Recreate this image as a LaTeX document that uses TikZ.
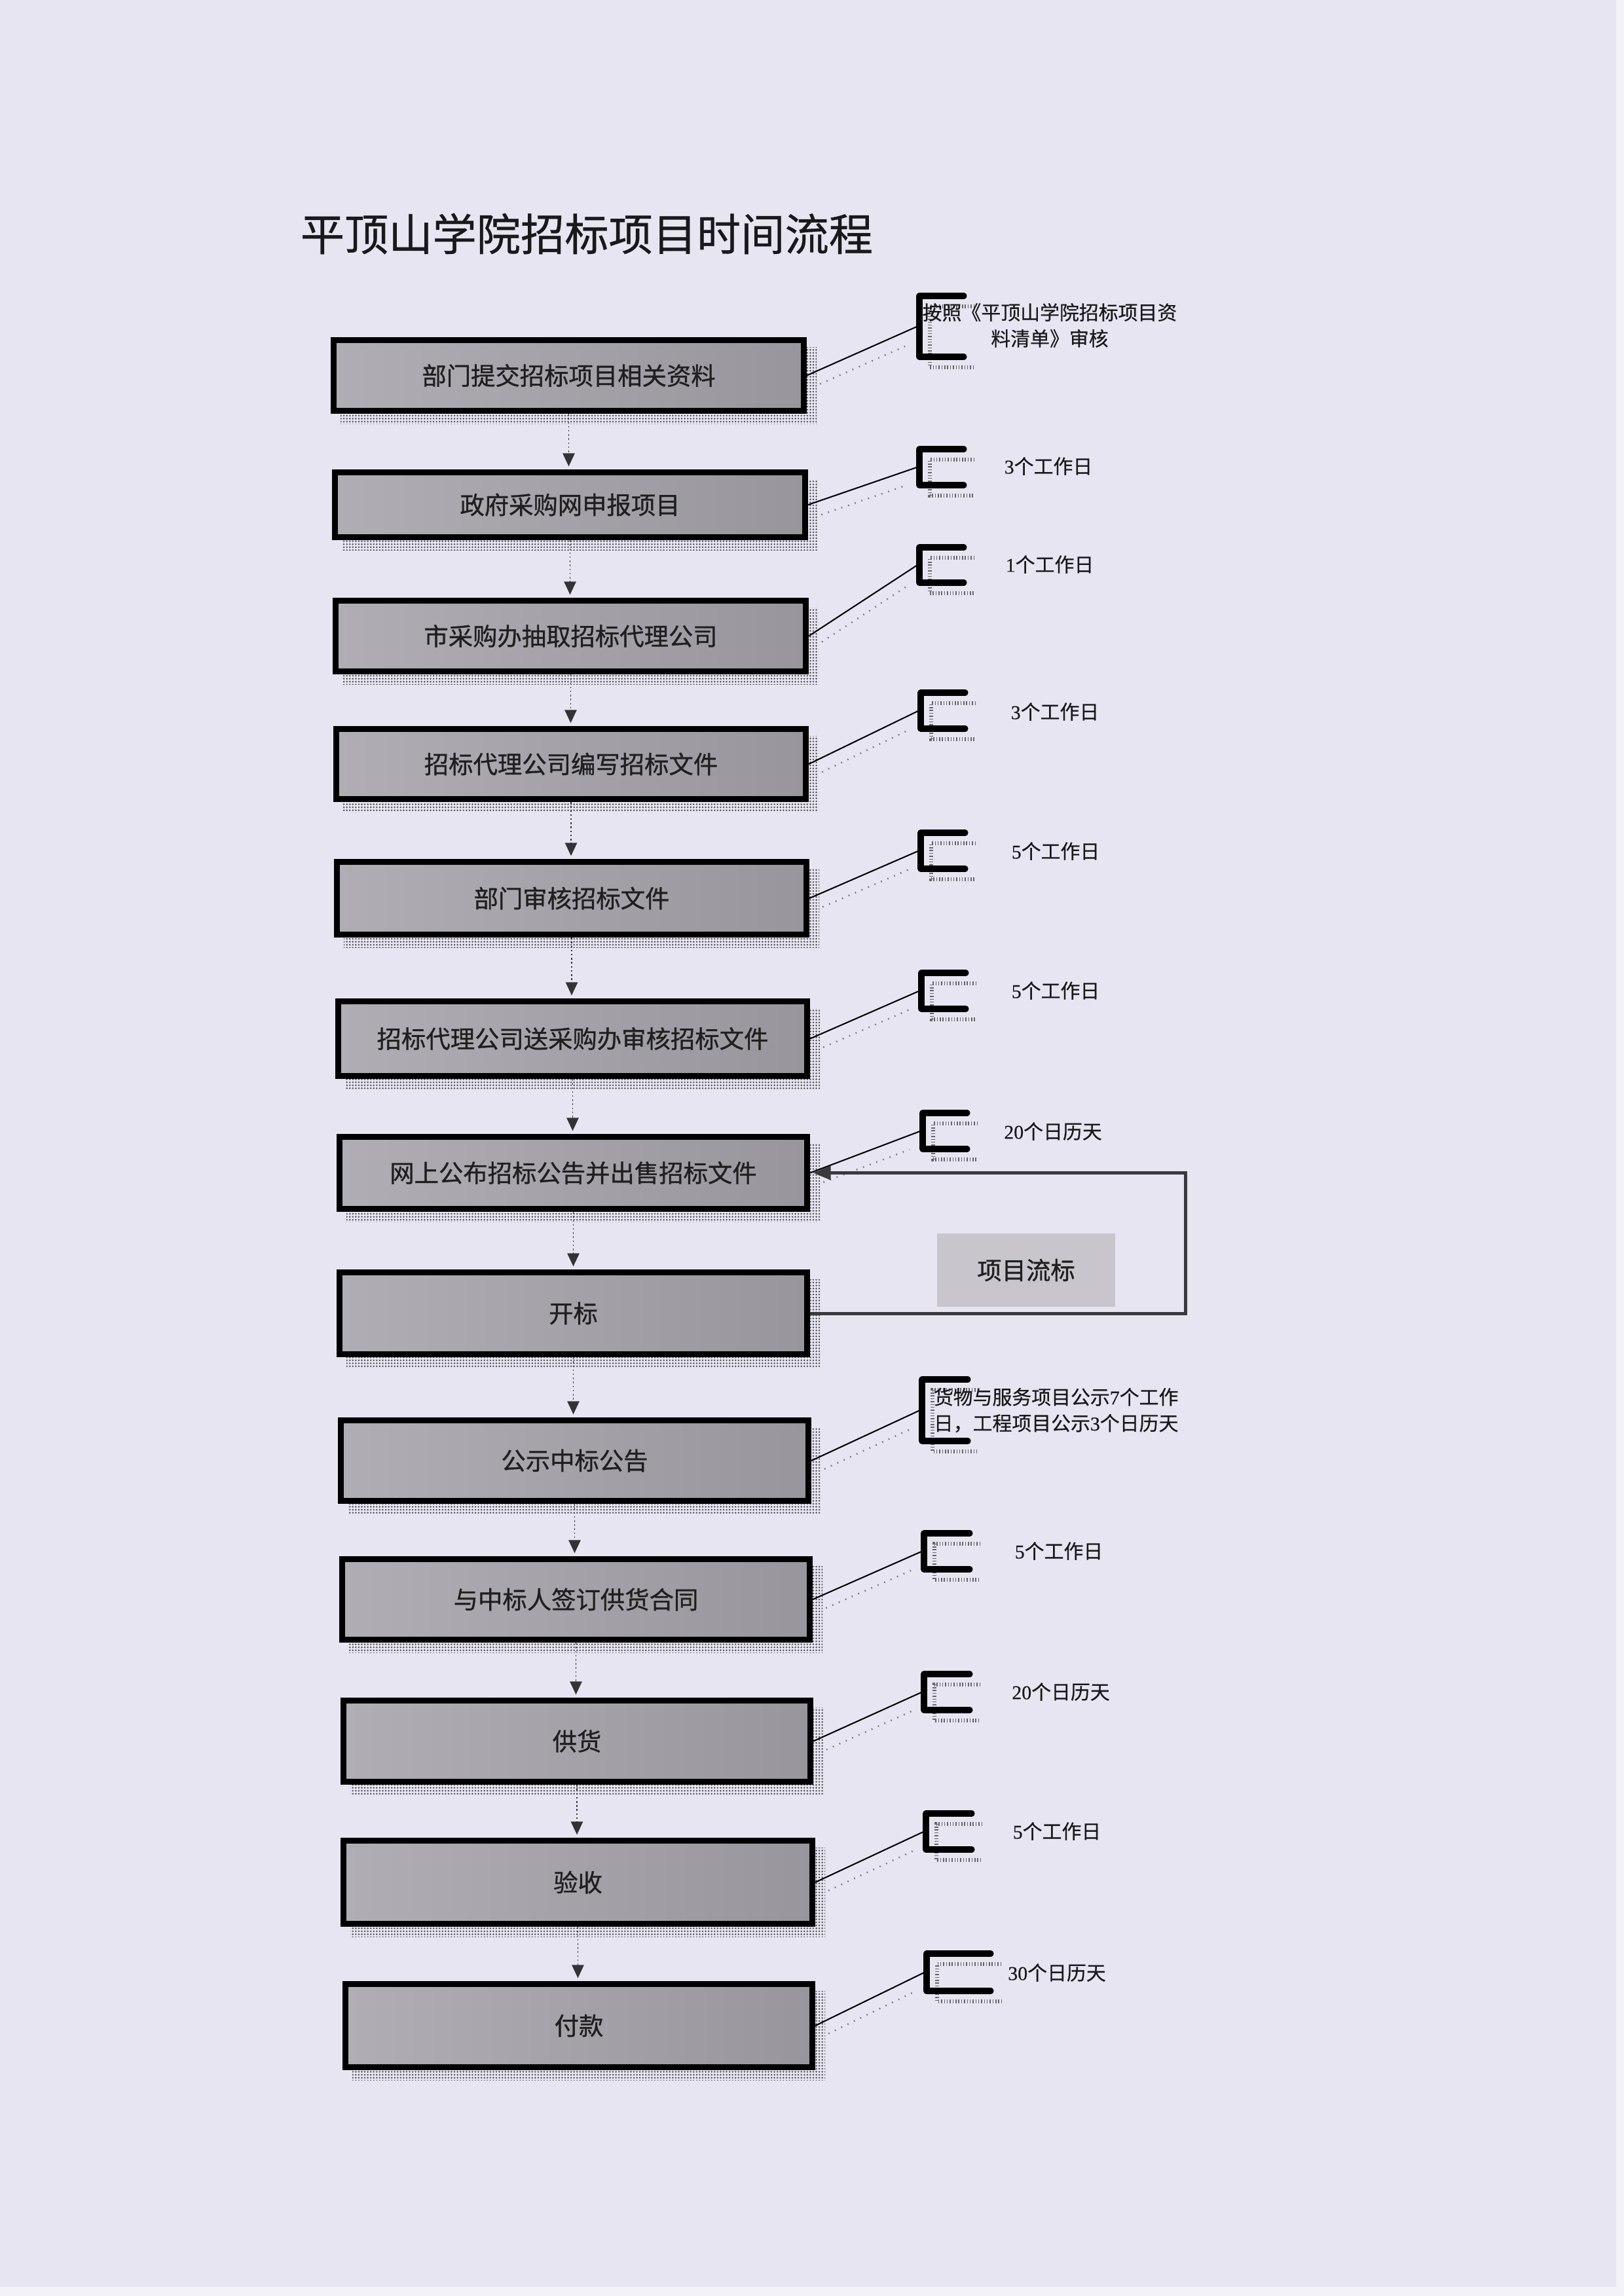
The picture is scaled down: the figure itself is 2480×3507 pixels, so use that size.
\documentclass[tikz,border=0pt]{standalone}
\usepackage{fontspec}
\newfontfamily\cjk[FakeBold=0.5]{Noto Sans CJK SC}
\newfontfamily\cjkb[FakeBold=0.9]{Noto Sans CJK SC}
\newfontfamily\serifd[FakeBold=0.5]{Liberation Serif}
\usetikzlibrary{arrows.meta,patterns.meta,calc}
\definecolor{pagebg}{HTML}{E8E5F3}
\definecolor{edgewhite}{HTML}{F3F2F9}
\definecolor{boxL}{HTML}{B0AEB4}
\definecolor{boxR}{HTML}{98969C}
\definecolor{failfill}{HTML}{C8C6CC}
\definecolor{loopcol}{HTML}{3A3A3E}
\newcommand\dg[1]{{\serifd #1}}
\newcommand\stepnode[6]{%
  \fill[shadowbox] (#2+15,#3+15) rectangle (#4+15,#5+15);
  \node[stepbox, minimum width={(#4-#2-9)*0.24093pt}, minimum height={(#5-#3-9)*0.24093pt}]
    (#1) at ({(#2+#4)/2},{(#3+#5)/2}) {\cjkb #6};}
\newcommand\bracketmark[5]{%
  \draw[bshadow] (#2+16+#5,#3+16) -- (#2+16,#3+16) -- (#2+16,#4+16) -- (#2+16+#5,#4+16);
  \draw[bracketline] (#2+#5,#3) -- (#2,#3) -- (#2,#4) -- (#2+#5,#4);
  \coordinate (#1) at (#2-3,{(#3+#4)/2});}
\newcommand\linkto[2]{%
  \draw[connshadow] ($(#1.east)!0.12!(#2)+(0,22)$) -- ($(#1.east)!0.9!(#2)+(0,22)$);
  \draw[conn] (#1.east) -- (#2);}
\begin{document}
\begin{tikzpicture}[x=0.0846774mm,y=-0.0846774mm,
  stepbox/.style={draw=black, line width=2.2pt, left color=boxL, right color=boxR,
    inner sep=0pt, font=\fontsize{9pt}{11pt}\selectfont, text=black!88},
  shadowbox/.style={pattern={Dots[distance=1.1pt,radius=0.33pt]}, pattern color=black!70},
  flow/.style={draw=black!80, line width=0.4pt, dash pattern=on 0.6pt off 0.9pt,
    -{Triangle[length=4.8pt,width=4.4pt]}, shorten >=1.1pt},
  bracketline/.style={draw=black, line width=2.2pt, line cap=round, line join=round},
  bshadow/.style={draw=black!60, line width=1.6pt, dash pattern=on 0.35pt off 0.7pt},
  conn/.style={draw=black, line width=0.5pt},
  connshadow/.style={draw=black!55, line width=0.6pt, dash pattern=on 0.4pt off 2.2pt},
  anno/.style={font=\cjk\fontsize{7.2pt}{9.6pt}\selectfont, text=black!90, inner sep=0pt},
  failbox/.style={fill=failfill, minimum width=65.5pt, minimum height=27.2pt, inner sep=0pt,
    font=\cjkb\fontsize{9pt}{11pt}\selectfont, text=black!88},
  loopline/.style={draw=loopcol, line width=1.2pt, -{Triangle[length=6.5pt,width=5pt]}, shorten >=1.1pt},
  titletext/.style={font=\cjk\fontsize{16.2pt}{19pt}\selectfont, text=black!90, inner sep=0pt, anchor=west}
]
% page
\fill[pagebg] (0,0) rectangle (2480,3507);
\fill[edgewhite] (2468,0) rectangle (2480,3507);
\fill[edgewhite] (0,3493) rectangle (2480,3507);
\useasboundingbox (0,0) rectangle (2480,3507);

% title
\node[titletext] (title) at (458,357) {平顶山学院招标项目时间流程};

% process boxes
\stepnode{b1}{505}{515}{1232}{632}{部门提交招标项目相关资料}
\stepnode{b2}{507}{717}{1234}{825}{政府采购网申报项目}
\stepnode{b3}{508}{913}{1235}{1030}{市采购办抽取招标代理公司}
\stepnode{b4}{509}{1109}{1235}{1225}{招标代理公司编写招标文件}
\stepnode{b5}{510}{1312}{1236}{1432}{部门审核招标文件}
\stepnode{b6}{512}{1525}{1237}{1648}{招标代理公司送采购办审核招标文件}
\stepnode{b7}{514}{1732}{1237}{1851}{网上公布招标公告并出售招标文件}
\stepnode{b8}{514}{1939}{1237}{2073}{开标}
\stepnode{b9}{516}{2165}{1239}{2297}{公示中标公告}
\stepnode{b10}{518}{2377}{1241}{2509}{与中标人签订供货合同}
\stepnode{b11}{520}{2593}{1242}{2726}{供货}
\stepnode{b12}{520}{2807}{1245}{2943}{验收}
\stepnode{b13}{523}{3026}{1245}{3162}{付款}

% flow arrows
\foreach \a/\b in {b1/b2,b2/b3,b3/b4,b4/b5,b5/b6,b6/b7,b7/b8,b8/b9,b9/b10,b10/b11,b11/b12,b12/b13}
  \draw[flow] (\a.south) -- (\a.south |- \b.north);

% brackets
\bracketmark{k1}{1404}{452}{545}{68}
\bracketmark{k2}{1404}{686}{741}{68}
\bracketmark{k3}{1404}{836}{890}{68}
\bracketmark{k4}{1406}{1058}{1113}{68}
\bracketmark{k5}{1406}{1272}{1327}{68}
\bracketmark{k6}{1407}{1486}{1541}{68}
\bracketmark{k7}{1409}{1700}{1755}{68}
\bracketmark{k8}{1408}{2107}{2201}{70}
\bracketmark{k9}{1411}{2342}{2397}{70}
\bracketmark{k10}{1411}{2557}{2612}{70}
\bracketmark{k11}{1414}{2770}{2825}{70}
\bracketmark{k12}{1415}{2984}{3041}{98}

% annotation texts
\node[anno, align=center] (t1) at (1603,497) {按照《平顶山学院招标项目资\\料清单》审核};
\node[anno] (t2) at (1601,712) {\dg{3}个工作日};
\node[anno] (t3) at (1603,862) {\dg{1}个工作日};
\node[anno] (t4) at (1611,1087) {\dg{3}个工作日};
\node[anno] (t5) at (1612,1300) {\dg{5}个工作日};
\node[anno] (t6) at (1612,1513) {\dg{5}个工作日};
\node[anno] (t7) at (1608,1728) {\dg{20}个日历天};
\node[anno, align=left, anchor=west] (t8) at (1425,2154) {货物与服务项目公示\dg{7}个工作\\日，工程项目公示\dg{3}个日历天};
\node[anno] (t9) at (1617,2369) {\dg{5}个工作日};
\node[anno] (t10) at (1620,2584) {\dg{20}个日历天};
\node[anno] (t11) at (1614,2797) {\dg{5}个工作日};
\node[anno] (t12) at (1614,3013) {\dg{30}个日历天};

% links box -> bracket
\linkto{b1}{k1}
\linkto{b2}{k2}
\linkto{b3}{k3}
\linkto{b4}{k4}
\linkto{b5}{k5}
\linkto{b6}{k6}
\linkto{b7}{k7}
\linkto{b9}{k8}
\linkto{b10}{k9}
\linkto{b11}{k10}
\linkto{b12}{k11}
\linkto{b13}{k12}

% failed tender loop
\node[failbox] (fail) at (1567,1940) {项目流标};
\coordinate (loopc) at (1810,1900);
\draw[loopline] (b8.east) -| (loopc) |- (b7.east);
\end{tikzpicture}
\end{document}
